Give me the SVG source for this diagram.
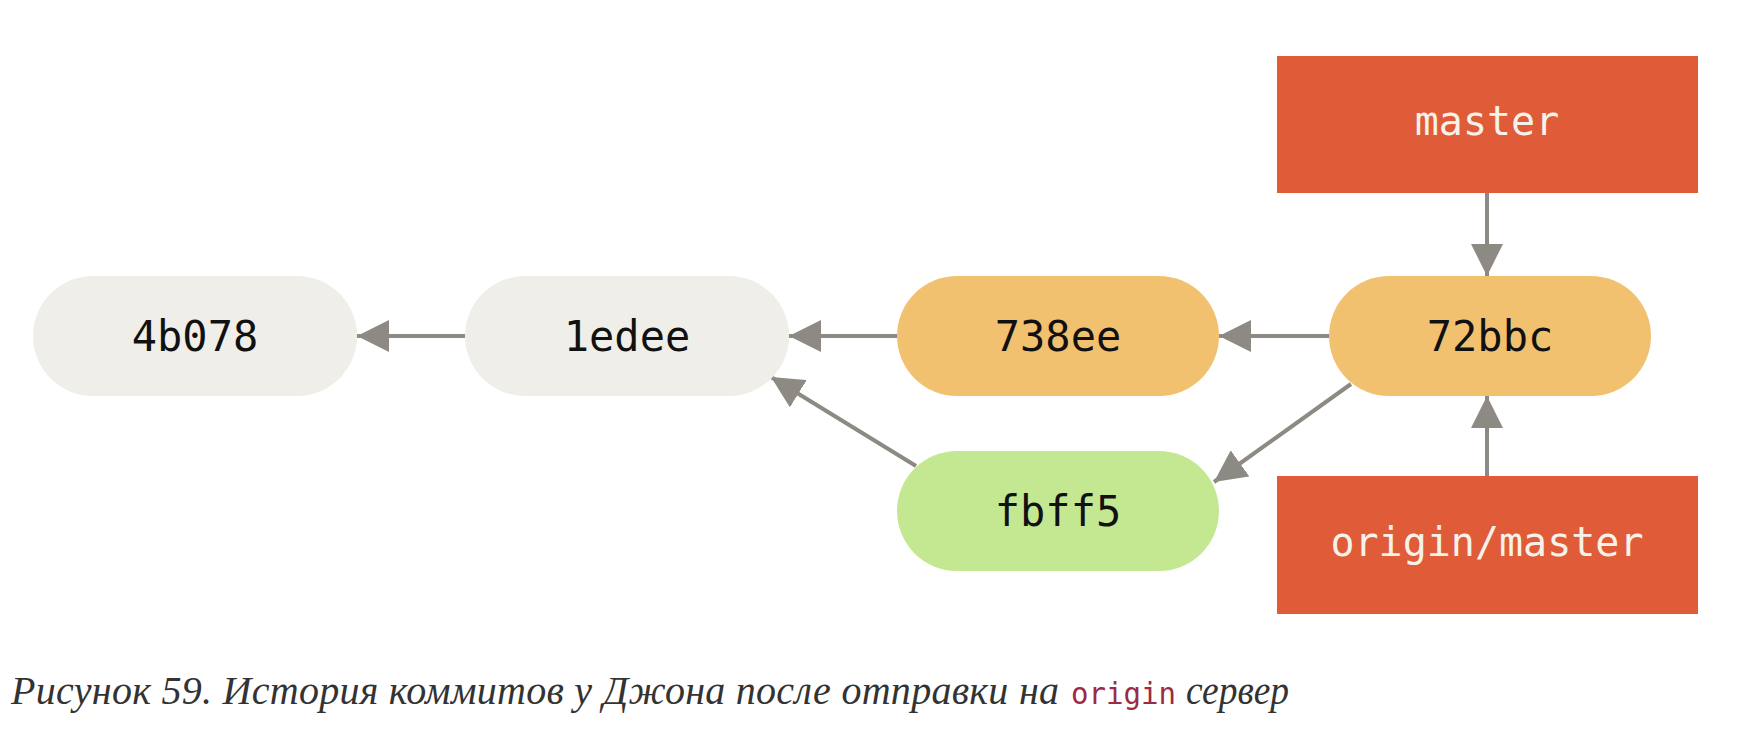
<svg xmlns="http://www.w3.org/2000/svg" width="1748" height="746" viewBox="0 0 1748 746">
<defs>
<style>
.node text{font-family:"DejaVu Sans Mono","Liberation Mono",monospace;font-size:42px;text-anchor:middle;fill:#111}
.ref text{font-family:"DejaVu Sans Mono","Liberation Mono",monospace;font-size:40px;text-anchor:middle;fill:#f6f2ea}
.grey{fill:#efeee9}.orange{fill:#f2c170}.green{fill:#c4e891}.red{fill:#e05b38}
.edge{stroke:#8d8a83;stroke-width:4;fill:none;marker-end:url(#ah)}
.cap{font-family:"Liberation Serif","DejaVu Serif",serif;font-style:italic;font-size:40px;fill:#333}
.code{font-family:"DejaVu Sans Mono","Liberation Mono",monospace;font-size:30px;fill:#9b2b45}
</style>
<marker id="ah" viewBox="0 0 10 10" refX="10" refY="5" markerWidth="8" markerHeight="8" markerUnits="strokeWidth" orient="auto">
<path d="M0,0 L10,5 L0,10 z" fill="#8d8a83"/>
</marker>
</defs>
<rect width="1748" height="746" fill="#fff"/>
<g id="edges">
<line class="edge" x1="465" y1="336" x2="357" y2="336"/>
<line class="edge" x1="897" y1="336" x2="789" y2="336"/>
<line class="edge" x1="1329" y1="336" x2="1219" y2="336"/>
<line class="edge" x1="1487" y1="192" x2="1487" y2="276"/>
<line class="edge" x1="1487" y1="476" x2="1487" y2="396"/>
<line class="edge" x1="1351" y1="384" x2="1214" y2="482"/>
<line class="edge" x1="916" y1="466" x2="771" y2="377"/>
</g>
<g id="n4b078" class="node"><rect class="grey" x="33" y="276" width="324" height="120" rx="60"/><text x="195" y="351">4b078</text></g>
<g id="n1edee" class="node"><rect class="grey" x="465" y="276" width="324" height="120" rx="60"/><text x="627" y="351">1edee</text></g>
<g id="n738ee" class="node"><rect class="orange" x="897" y="276" width="322" height="120" rx="60"/><text x="1058" y="351">738ee</text></g>
<g id="n72bbc" class="node"><rect class="orange" x="1329" y="276" width="322" height="120" rx="60"/><text x="1490" y="351">72bbc</text></g>
<g id="nfbff5" class="node"><rect class="green" x="897" y="451" width="322" height="120" rx="60"/><text x="1058" y="526">fbff5</text></g>
<g id="master" class="ref"><rect class="red" x="1277" y="56" width="421" height="137"/><text x="1487" y="135">master</text></g>
<g id="origin-master" class="ref"><rect class="red" x="1277" y="476" width="421" height="138"/><text x="1487" y="556">origin/master</text></g>
<g id="caption">
<text class="cap" x="11" y="704" textLength="1048" lengthAdjust="spacing">Рисунок 59. История коммитов у Джона после отправки на</text>
<text class="code" x="1071" y="704" textLength="105" lengthAdjust="spacingAndGlyphs">origin</text>
<text class="cap" x="1186" y="704" textLength="103" lengthAdjust="spacingAndGlyphs">сервер</text>
</g>
</svg>
